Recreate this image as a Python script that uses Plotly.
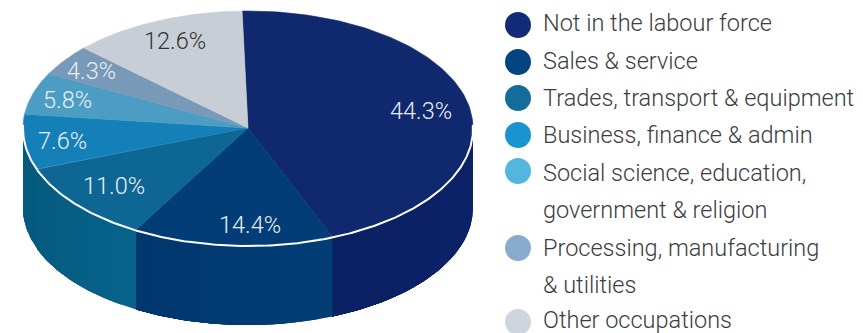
import numpy as np
import plotly.graph_objects as go

# Occupation shares, clockwise from just left of twelve o'clock
categories = ["Not in the labour force", "Sales & service", "Trades, transport & equipment",
              "Business, finance & admin", "Social science, education, government & religion",
              "Processing, manufacturing & utilities", "Other occupations"]
shares = [44.3, 14.4, 11.0, 7.6, 5.8, 4.3, 12.6]

top_colours = ["#10286e", "#023d78", "#0e6695", "#1580b8", "#4b9dc3", "#7899b8", "#c8ced5"]
side_from = ["#0c2268", "#023d75", "#07628a", "#055a80", "#055a80", "#055a80", "#055a80"]
side_to = ["#0c2163", "#01366e", "#055b80", "#055a80", "#055a80", "#055a80", "#055a80"]
legend_colours = ["#122a78", "#034481", "#146c9a", "#1b93d1", "#53b6de", "#88abcd", "#cfd5de"]
legend_lines = [["Not in the labour force"], ["Sales & service"], ["Trades, transport & equipment"],
                ["Business, finance & admin"], ["Social science, education,", "government & religion"],
                ["Processing, manufacturing", "& utilities"], ["Other occupations"]]

# Pie geometry in page pixels
CX, CY, RX, RY, DEPTH = 248, 128, 225, 117, 80
START = -1.5
label_xy = [(421, 111), (250, 225), (114, 186), (62, 141), (67, 100), (91, 71), (175, 41)]
FONT = "Roboto"
TEXT = "#3b3d40"


def rim(a0, a1, n=90, dy=0.0):
    """Points of the rim between two clockwise angles measured from the top."""
    t = np.radians(np.linspace(a0, a1, n))
    return CX + RX * np.sin(t), CY - RY * np.cos(t) + dy


def mix(c0, c1, f):
    a = [int(c0[i:i + 2], 16) for i in (1, 3, 5)]
    b = [int(c1[i:i + 2], 16) for i in (1, 3, 5)]
    return "rgb(%d,%d,%d)" % tuple(round(p + (q - p) * f) for p, q in zip(a, b))


def polygon(x, y, colour, width=0.6):
    return go.Scatter(x=x, y=y, mode="lines", fill="toself", fillcolor=colour,
                      line=dict(color=colour, width=width), hoverinfo="skip", showlegend=False)


edges = START + np.cumsum([0] + shares) * 3.6
fig = go.Figure()

# Side wall: only the front half of the rim is visible. Each band runs on to the
# end of its slice and the next band paints over it, so no gaps open between bands.
for i, name in enumerate(categories):
    a0, a1 = max(edges[i], 90), min(edges[i + 1], 270)
    if a1 <= a0:
        continue
    steps = max(int((a1 - a0) / 4), 1)
    cuts = np.linspace(a0, a1, steps + 1)
    for k in range(steps):
        tx, ty = rim(cuts[k], a1, 40)
        bx, by = rim(a1, cuts[k], 40, DEPTH)
        fig.add_trace(polygon(np.r_[tx, bx], np.r_[ty, by],
                              mix(side_from[i], side_to[i], k / max(steps - 1, 1)), 0))

# Top face
for i, name in enumerate(categories):
    x, y = rim(edges[i], edges[i + 1], 120)
    fig.add_trace(polygon(np.r_[CX, x, CX], np.r_[CY, y, CY], top_colours[i]))

# White highlight along the front rim
hx, hy = rim(88, 272, 240, 1)
fig.add_trace(go.Scatter(x=hx, y=hy, mode="lines", line=dict(color="white", width=2),
                         hoverinfo="skip", showlegend=False))

# Percentage labels
for i, value in enumerate(shares):
    fig.add_annotation(x=label_xy[i][0], y=label_xy[i][1], text=f"{value:.1f}%", showarrow=False,
                       font=dict(family=FONT, size=23.5, weight=300,
                                 color="#333333" if i == len(shares) - 1 else "#e9eff5"))

# Key: swatches and wrapped entries
ROW_Y = [23, 61, 98, 135, 173, 248, 319.5]
TEXT_STEP = 37.3
fig.add_trace(go.Scatter(x=[518] * len(ROW_Y), y=[25, 62, 98, 135, 171, 248, 322], mode="markers",
                         marker=dict(size=26, color=legend_colours, line=dict(width=0)),
                         hoverinfo="skip", showlegend=False))
for i, lines in enumerate(legend_lines):
    for j, line in enumerate(lines):
        fig.add_annotation(x=540.5, y=ROW_Y[i] + j * TEXT_STEP, text=line, showarrow=False, xanchor="left",
                           font=dict(family=FONT, size=23.5, weight=300, color=TEXT))

fig.update_layout(width=863, height=333, margin=dict(l=0, r=0, t=0, b=0),
                  paper_bgcolor="white", plot_bgcolor="white", showlegend=False,
                  xaxis=dict(range=[0, 863], visible=False, fixedrange=True),
                  yaxis=dict(range=[333, 0], visible=False, fixedrange=True))
fig.write_html("out.html", config=dict(displayModeBar=False))
